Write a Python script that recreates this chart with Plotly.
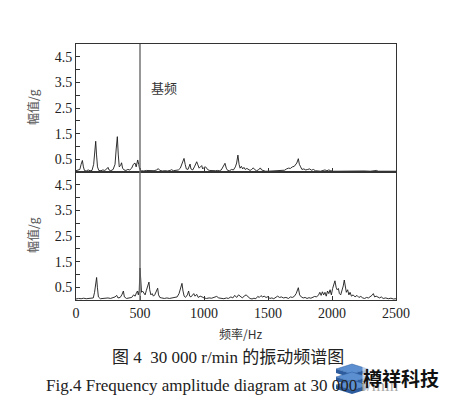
import plotly.graph_objects as go

# ---------------- data ----------------
top_freq = [0, 15, 30, 40, 50, 58, 66, 80, 95, 110, 125, 138, 146, 154, 160, 168, 178, 195, 210, 225,
            240, 250, 258, 272, 290, 305, 314, 323, 330, 338, 348, 356, 364, 375, 390, 405, 420, 435, 448, 461,
            470, 482, 490, 498, 510, 530, 550, 570, 590, 610, 630, 643, 655, 675, 695, 715, 735, 747, 760, 780,
            800, 815, 830, 844, 853, 862, 875, 884, 891, 898, 912, 925, 935, 943, 952, 962, 972, 982, 990, 1000,
            1012, 1021, 1032, 1045, 1060, 1075, 1090, 1105, 1120, 1135, 1150, 1164, 1174, 1185, 1200, 1215, 1230, 1245, 1255, 1265,
            1274, 1282, 1292, 1302, 1312, 1322, 1335, 1348, 1360, 1372, 1385, 1395, 1410, 1425, 1440, 1450, 1465, 1480, 1500, 1520,
            1540, 1560, 1580, 1600, 1615, 1630, 1645, 1660, 1675, 1690, 1705, 1715, 1725, 1737, 1745, 1755, 1765, 1780, 1795, 1810,
            1825, 1840, 1855, 1870, 1890, 1910, 1930, 1945, 1960, 1975, 1990, 2010, 2050, 2100, 2150, 2200, 2250, 2300, 2349, 2360,
            2420, 2500]
top_amp = [0.05, 0.08, 0.10, 0.30, 0.45, 0.20, 0.06, 0.04, 0.08, 0.05, 0.06, 0.30, 0.80, 1.20, 0.70, 0.20, 0.06, 0.05, 0.08, 0.06,
           0.12, 0.18, 0.08, 0.05, 0.10, 0.30, 0.90, 1.38, 0.70, 0.20, 0.25, 0.36, 0.15, 0.08, 0.06, 0.10, 0.08, 0.15, 0.30, 0.35,
           0.20, 0.47, 0.30, 0.10, 0.05, 0.04, 0.06, 0.05, 0.04, 0.05, 0.08, 0.13, 0.06, 0.04, 0.05, 0.04, 0.06, 0.09, 0.05, 0.06,
           0.08, 0.15, 0.35, 0.53, 0.30, 0.12, 0.10, 0.25, 0.31, 0.12, 0.08, 0.20, 0.32, 0.40, 0.28, 0.15, 0.20, 0.25, 0.12, 0.18,
           0.20, 0.15, 0.08, 0.06, 0.05, 0.04, 0.05, 0.06, 0.05, 0.08, 0.20, 0.34, 0.15, 0.06, 0.05, 0.10, 0.08, 0.20, 0.35, 0.66,
           0.30, 0.15, 0.22, 0.12, 0.18, 0.10, 0.14, 0.08, 0.06, 0.10, 0.16, 0.10, 0.05, 0.08, 0.16, 0.08, 0.04, 0.03, 0.03, 0.04,
           0.03, 0.05, 0.04, 0.06, 0.08, 0.07, 0.12, 0.15, 0.14, 0.20, 0.22, 0.28, 0.35, 0.52, 0.30, 0.20, 0.10, 0.12, 0.08, 0.10,
           0.12, 0.07, 0.10, 0.05, 0.04, 0.03, 0.06, 0.08, 0.05, 0.08, 0.05, 0.03, 0.03, 0.04, 0.03, 0.03, 0.04, 0.03, 0.06, 0.03,
           0.03, 0.03]

bot_freq = [0, 20, 40, 60, 80, 100, 120, 135, 145, 153, 161, 167, 175, 190, 210, 230, 250, 270, 290, 305,
            318, 328, 345, 358, 370, 378, 395, 415, 435, 450, 462, 472, 480, 487, 494, 500, 506, 512, 520, 530,
            540, 550, 560, 570, 576, 585, 595, 605, 615, 625, 638, 645, 655, 670, 690, 710, 730, 750, 770, 790,
            805, 818, 828, 836, 845, 855, 870, 880, 888, 898, 910, 920, 930, 943, 955, 970, 985, 1000, 1020, 1040,
            1060, 1080, 1099, 1115, 1135, 1155, 1175, 1190, 1210, 1225, 1240, 1255, 1270, 1285, 1300, 1315, 1330, 1345, 1360, 1375,
            1390, 1405, 1420, 1432, 1445, 1458, 1470, 1485, 1500, 1515, 1530, 1545, 1560, 1575, 1590, 1605, 1620, 1640, 1660, 1675,
            1690, 1705, 1720, 1737, 1747, 1760, 1775, 1790, 1805, 1820, 1835, 1850, 1865, 1880, 1895, 1905, 1915, 1925, 1935, 1945,
            1955, 1965, 1975, 1985, 1995, 2005, 2015, 2023, 2032, 2040, 2050, 2058, 2068, 2078, 2088, 2096, 2104, 2112, 2122, 2132,
            2141, 2152, 2165, 2180, 2195, 2210, 2225, 2240, 2255, 2270, 2285, 2300, 2312, 2323, 2333, 2345, 2358, 2372, 2385, 2400,
            2420, 2440, 2460, 2480, 2500]
bot_amp = [0.04, 0.06, 0.05, 0.07, 0.05, 0.06, 0.05, 0.08, 0.30, 0.60, 0.88, 0.50, 0.12, 0.05, 0.06, 0.05, 0.08, 0.06, 0.10, 0.12,
           0.18, 0.08, 0.10, 0.20, 0.35, 0.12, 0.06, 0.08, 0.10, 0.20, 0.15, 0.28, 0.35, 0.20, 0.38, 1.25, 0.60, 0.30, 0.35, 0.28,
           0.20, 0.38, 0.55, 0.70, 0.40, 0.20, 0.25, 0.15, 0.20, 0.30, 0.46, 0.20, 0.10, 0.08, 0.06, 0.08, 0.06, 0.08, 0.10, 0.12,
           0.25, 0.45, 0.65, 0.35, 0.15, 0.10, 0.20, 0.35, 0.15, 0.12, 0.20, 0.25, 0.15, 0.22, 0.10, 0.15, 0.12, 0.08, 0.06, 0.08,
           0.07, 0.10, 0.14, 0.08, 0.06, 0.05, 0.08, 0.06, 0.12, 0.08, 0.18, 0.10, 0.20, 0.12, 0.08, 0.16, 0.20, 0.12, 0.06, 0.04,
           0.07, 0.05, 0.14, 0.10, 0.17, 0.12, 0.15, 0.10, 0.13, 0.06, 0.08, 0.05, 0.10, 0.15, 0.10, 0.12, 0.08, 0.10, 0.06, 0.12,
           0.10, 0.14, 0.25, 0.48, 0.20, 0.12, 0.08, 0.10, 0.06, 0.09, 0.07, 0.10, 0.14, 0.12, 0.20, 0.30, 0.18, 0.32, 0.20, 0.30,
           0.15, 0.35, 0.25, 0.40, 0.20, 0.45, 0.60, 0.75, 0.50, 0.40, 0.45, 0.25, 0.20, 0.35, 0.55, 0.78, 0.45, 0.30, 0.40, 0.20,
           0.30, 0.15, 0.20, 0.12, 0.18, 0.10, 0.14, 0.08, 0.06, 0.10, 0.08, 0.12, 0.18, 0.25, 0.12, 0.15, 0.10, 0.08, 0.12, 0.06,
           0.08, 0.05, 0.07, 0.04, 0.05]

fundamental_hz = 500
y_tick_vals = [0.5, 1.0, 1.5, 2.0, 2.5, 3.0, 3.5, 4.0, 4.5]
y_tick_text = ["0.5", "", "1.5", "", "2.5", "", "3.5", "", "4.5"]
x_tick_vals = [0, 500, 1000, 1500, 2000, 2500]
x_tick_text = ["0", "500", "1000", "1500", "2000", "2500"]

# ---------------- layout helpers ----------------
# page body has an 8px default margin, so the figure is drawn 8px smaller/shifted
OFF = 8
W, H = 450 - OFF, 399 - OFF
L, R, T, B = 76, 396, 44, 300   # plot area in reference-picture pixels


def px(x):
    return (x - L) / (R - L)


def py(y):
    return (B - y) / (B - T)


serif = "Liberation Serif, Times New Roman, serif"
cjk = "Noto Sans CJK SC, Noto Sans CJK JP, sans-serif"
ink = "#222222"

fig = go.Figure()
fig.add_trace(go.Scatter(x=top_freq, y=top_amp, mode="lines", xaxis="x", yaxis="y",
                         line=dict(color="#1a1a1a", width=0.9), showlegend=False))
fig.add_trace(go.Scatter(x=bot_freq, y=bot_amp, mode="lines", xaxis="x2", yaxis="y2",
                         line=dict(color="#1a1a1a", width=0.9), showlegend=False))

axis_common = dict(showline=True, linecolor="#333333", linewidth=1, mirror=True,
                   ticks="inside", ticklen=4, tickcolor="#333333", showgrid=False, zeroline=False)

fig.update_layout(
    width=W, height=H,
    margin=dict(l=L - OFF, r=W - (R - OFF), t=T - OFF, b=H - (B - OFF), pad=0),
    paper_bgcolor="white", plot_bgcolor="white",
    xaxis=dict(domain=[0, 1], anchor="y", range=[0, 2500], tickvals=x_tick_vals,
               showticklabels=False, matches="x2", **axis_common),
    yaxis=dict(domain=[0.5, 1], anchor="x", range=[0, 5], tickvals=y_tick_vals, ticktext=y_tick_text,
               tickfont=dict(family=serif, size=14, color=ink), **axis_common),
    xaxis2=dict(domain=[0, 1], anchor="y2", range=[0, 2500], tickvals=x_tick_vals, ticktext=x_tick_text,
                tickfont=dict(family=serif, size=14, color=ink), **axis_common),
    yaxis2=dict(domain=[0, 0.5], anchor="x2", range=[0, 5], tickvals=y_tick_vals, ticktext=y_tick_text,
                tickfont=dict(family=serif, size=14, color=ink), **axis_common),
)

# fundamental-frequency reference line through both panels
fig.add_shape(type="line", xref="x2", yref="paper", x0=fundamental_hz, x1=fundamental_hz, y0=0, y1=1,
              line=dict(color="#6a6a6a", width=1.4))

C = dict(xanchor="center", yanchor="middle", showarrow=False)
ann = []
ann.append(dict(text="基频", xref="x", yref="y", x=688, y=3.3,
                font=dict(family=cjk, size=13, color="#333333"), **C))
for yc in (107, 235):
    ann.append(dict(text="幅值/g", xref="paper", yref="paper", x=px(32), y=py(yc), textangle=-90,
                    font=dict(family=cjk, size=12, color="#555555"), **C))
ann.append(dict(text="频率/Hz", xref="paper", yref="paper", x=px(240), y=py(333),
                font=dict(family=cjk, size=12, color="#333333"), **C))
ann.append(dict(text="图 4  30 000 r/min 的振动频谱图", xref="paper", yref="paper", x=px(228), y=py(357),
                font=dict(family="Liberation Serif, Noto Sans CJK SC, serif", size=17, color=ink), **C))
ann.append(dict(text="Fig.4 Frequency amplitude diagram at 30 000 r/min", xref="paper", yref="paper",
                x=px(222), y=py(385), font=dict(family=serif, size=17, color=ink), **C))
ann.append(dict(text="<b>樽祥科技</b>", xref="paper", yref="paper", x=px(401), y=py(377),
                bgcolor="rgba(255,255,255,0.6)", borderpad=0,
                font=dict(family=cjk, size=19, color="#111111"), **C))
fig.update_layout(annotations=ann)

# watermark logo: stacked blue slabs
for yy in (364, 372, 380):
    top = f"M {px(336)},{py(yy+5)} L {px(352)},{py(yy)} L {px(368)},{py(yy+5)} L {px(352)},{py(yy+10)} Z"
    side = (f"M {px(336)},{py(yy+5)} L {px(352)},{py(yy+10)} L {px(368)},{py(yy+5)} "
            f"L {px(368)},{py(yy+9)} L {px(352)},{py(yy+14)} L {px(336)},{py(yy+9)} Z")
    fig.add_shape(type="path", xref="paper", yref="paper", path=side, fillcolor="#2c5c9e",
                  line=dict(width=0), layer="above")
    fig.add_shape(type="path", xref="paper", yref="paper", path=top, fillcolor="#5b8fd0",
                  line=dict(color="#2c5c9e", width=0.5), layer="above")

fig.write_html("out.html")
